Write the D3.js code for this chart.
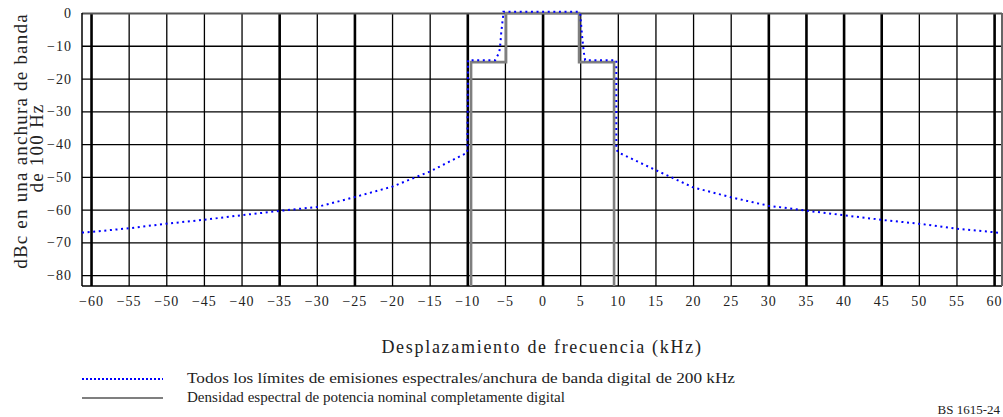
<!DOCTYPE html>
<meta charset="utf-8">
<script src="https://d3js.org/d3.v7.min.js"></script>
<style>
  body { margin: 0; background: #fff; }
  text { font-family: "Liberation Serif", "Times New Roman", serif; fill: #222; }
</style>
<body>
<svg width="1003" height="417"></svg>
</body>
<script>

// tick values
var xTicks = d3.range(-60, 61, 5),
    yTicks = [0, -10, -20, -30, -40, -50, -60, -70, -80],
    thickX = [-60, -35, -25, -10, 0, 30, 35, 40, 45, 60];

// emission limit mask (blue dotted), kHz / dBc
var maskX = [-61.2, -60, -55, -50, -45, -40, -35, -30, -25, -20, -15, -10, -9.9, -6.3, -5.75, -5.6, -5.5, -5.35, -5.25, -5.2,
             4.8, 5.0, 5.13, 5.26, 5.4, 5.53, 5.66, 9.8, 9.8, 10.3, 15, 20, 25, 30, 35, 40, 45, 50, 55, 60, 61];
var maskY = [-67.0, -66.8, -65.7, -64.3, -63.1, -61.7, -60.4, -59.2, -56.2, -53.0, -48.4, -42.6, -14.4, -14.4, -12.0, -9.2, -6.2, -3.1, -1.1, 0.4,
             0.4, -0.1, -3.7, -7.2, -10.3, -12.8, -14.4, -14.4, -41.8, -42.8, -47.9, -53.2, -56.2, -58.8, -60.3, -61.7, -63.1, -64.3, -65.8, -66.9, -67.2];

// nominal all-digital PSD (grey)
var psdX = [-9.5, -9.5, -4.85, -4.85, 4.85, 4.85, 9.5, 9.5];
var psdY = [-83.3, -15, -15, 0, 0, -15, -15, -83.3];

var legendLabels = [
  "Todos los límites de emisiones espectrales/anchura de banda digital de 200 kHz",
  "Densidad espectral de potencia nominal completamente digital"
];
var legendWidths = [548, 378];

var pl = 82, pr = 1002, pt = 13, pb = 286;

var svg = d3.select("svg");

var x = d3.scaleLinear().domain([-61.2, 61.05]).range([pl, pr]);
var y = d3.scaleLinear().domain([0, -83.3]).range([pt, pb]);

// vertical grid + x labels
var gx = svg.append("g")
    .attr("transform", "translate(0," + pb + ")")
    .call(d3.axisBottom(x).tickValues(xTicks).tickSize(-(pb - pt)).tickPadding(10.5));
gx.select(".domain").remove();
gx.selectAll(".tick line")
    .attr("stroke", "#000")
    .attr("stroke-width", function(d) { return thickX.indexOf(d) >= 0 ? 2.6 : 1.3; });
gx.selectAll(".tick text")
    .style("font-size", "14px")
    .style("letter-spacing", "1px")
    .attr("fill", "#222");

// horizontal grid + y labels
var gy = svg.append("g")
    .attr("transform", "translate(" + pl + ",0)")
    .call(d3.axisLeft(y).tickValues(yTicks).tickSize(-(pr - pl)).tickPadding(10));
gy.select(".domain").remove();
gy.selectAll(".tick line")
    .attr("stroke", function(d) { return d === 0 ? "#555" : "#000"; })
    .attr("stroke-width", function(d) { return d === 0 ? 2.2 : 1.3; });
gy.selectAll(".tick text")
    .style("font-size", "14px")
    .style("letter-spacing", "1px")
    .attr("fill", "#222");

// frame
svg.append("line").attr("x1", pl).attr("x2", pl).attr("y1", pt).attr("y2", pb)
    .attr("stroke", "#000").attr("stroke-width", 1.5);
svg.append("line").attr("x1", pl).attr("x2", pr).attr("y1", pb).attr("y2", pb)
    .attr("stroke", "#000").attr("stroke-width", 1.5);
svg.append("line").attr("x1", pr).attr("x2", pr).attr("y1", pt).attr("y2", pb)
    .attr("stroke", "#666").attr("stroke-width", 2);

var line = d3.line()
    .x(function(d) { return x(d[0]); })
    .y(function(d) { return y(d[1]); });

svg.append("path")
    .datum(d3.zip(psdX, psdY))
    .attr("d", line)
    .attr("fill", "none")
    .attr("stroke", "#7f7f7f")
    .attr("stroke-width", 2.6);

svg.append("path")
    .datum(d3.zip(maskX, maskY))
    .attr("d", line)
    .attr("fill", "none")
    .attr("stroke", "#0000ff")
    .attr("stroke-width", 2)
    .attr("stroke-dasharray", "2,3.6");

// axis titles
svg.append("text")
    .attr("x", 542).attr("y", 353)
    .attr("text-anchor", "middle")
    .style("font-size", "18px")
    .style("letter-spacing", "1.7px")
    .text("Desplazamiento de frecuencia (kHz)");

svg.append("text")
    .attr("transform", "translate(27,141) rotate(-90)")
    .attr("text-anchor", "middle")
    .style("font-size", "19px")
    .style("letter-spacing", "1.2px")
    .text("dBc en una anchura de banda");
svg.append("text")
    .attr("transform", "translate(43,148) rotate(-90)")
    .attr("text-anchor", "middle")
    .style("font-size", "19px")
    .style("letter-spacing", "1.2px")
    .text("de 100 Hz");

// legend
var lg = svg.append("g");
lg.append("line").attr("x1", 82).attr("x2", 163).attr("y1", 379).attr("y2", 379)
    .attr("stroke", "#0000ff").attr("stroke-width", 2).attr("stroke-dasharray", "2,2");
lg.append("line").attr("x1", 82).attr("x2", 163).attr("y1", 398).attr("y2", 398)
    .attr("stroke", "#7f7f7f").attr("stroke-width", 2);
lg.selectAll("text.leg")
    .data(legendLabels)
    .enter().append("text")
    .attr("class", "leg")
    .attr("x", 187)
    .attr("y", function(d, i) { return 383 + i * 19; })
    .attr("textLength", function(d, i) { return legendWidths[i]; })
    .attr("lengthAdjust", "spacingAndGlyphs")
    .style("font-size", "14px")
    .text(function(d) { return d; });

svg.append("text")
    .attr("x", 1000).attr("y", 414)
    .attr("text-anchor", "end")
    .style("font-size", "13px")
    .text("BS 1615-24");
</script>
